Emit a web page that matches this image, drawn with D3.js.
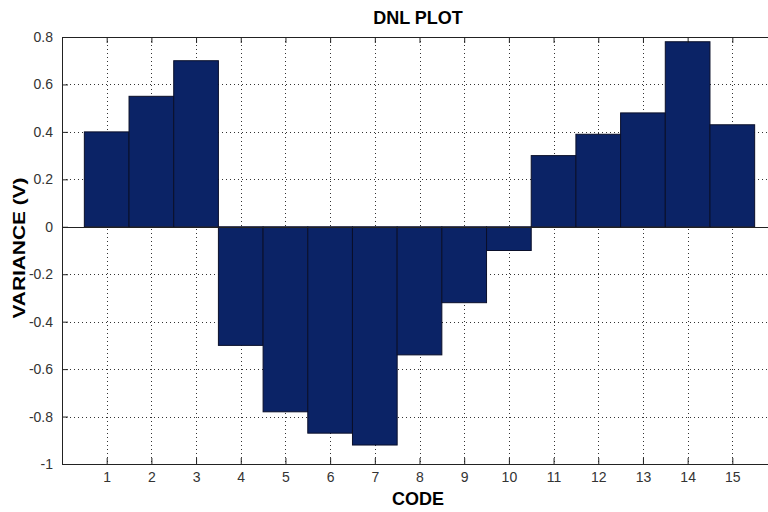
<!DOCTYPE html>
<html>
<head>
<meta charset="utf-8">
<script src="https://cdn.jsdelivr.net/npm/d3@7"></script>
<style>
body { margin: 0; background: #fff; }
svg { display: block; font-family: "Liberation Sans", Arial, sans-serif; }
</style>
</head>
<body>
<script>
// DNL per code
var codes = [1, 2, 3, 4, 5, 6, 7, 8, 9, 10, 11, 12, 13, 14, 15];
var dnl = [0.40, 0.55, 0.70, -0.50, -0.78, -0.87, -0.92, -0.54, -0.32, -0.10, 0.30, 0.39, 0.48, 0.78, 0.43];
var yTicks = [0.8, 0.6, 0.4, 0.2, 0, -0.2, -0.4, -0.6, -0.8, -1];

var width = 768, height = 512;
var mLeft = 62, mRight = 777, mTop = 37, mBottom = 464;

var x = d3.scaleLinear().domain([0, 16]).range([mLeft, mRight]);
var y = d3.scaleLinear().domain([-1, 0.8]).range([mBottom, mTop]);

var svg = d3.select("body").append("svg")
    .attr("width", width)
    .attr("height", height);

// grid
var grid = svg.append("g").attr("stroke", "#333").attr("stroke-width", 1).attr("stroke-dasharray", "1,3");
grid.selectAll(".gx").data(codes).enter().append("line")
    .attr("x1", d => Math.round(x(d)) + 0.5).attr("x2", d => Math.round(x(d)) + 0.5)
    .attr("y1", mTop).attr("y2", mBottom);
grid.selectAll(".gy").data(yTicks).enter().append("line")
    .attr("x1", mLeft).attr("x2", mRight)
    .attr("y1", d => Math.round(y(d)) + 0.5).attr("y2", d => Math.round(y(d)) + 0.5);

// bars
svg.selectAll("rect.bar").data(dnl).enter().append("rect")
    .attr("class", "bar")
    .attr("x", (d, i) => x(codes[i] - 0.5))
    .attr("width", x(1) - x(0))
    .attr("y", d => y(Math.max(0, d)))
    .attr("height", d => Math.abs(y(d) - y(0)))
    .attr("fill", "#0b2366")
    .attr("stroke", "#0a0f2a")
    .attr("stroke-width", 1);

// zero line
svg.append("line")
    .attr("x1", mLeft).attr("x2", mRight)
    .attr("y1", Math.round(y(0)) + 0.5).attr("y2", Math.round(y(0)) + 0.5)
    .attr("stroke", "#222");

// axes with inward ticks
var xAxis = d3.axisBottom(x).tickValues(codes).tickSize(-6).tickPadding(8);
var xTop = d3.axisTop(x).tickValues(codes).tickSize(-6).tickFormat("");
var yAxis = d3.axisLeft(y).tickValues(yTicks).tickSize(-6).tickPadding(9).tickFormat(d => String(d));

function styleAxis(g) {
    g.select(".domain").attr("stroke", "#222");
    g.selectAll(".tick line").attr("stroke", "#222");
    g.selectAll(".tick text").attr("fill", "#333").attr("font-size", 14)
        .attr("font-family", "'Liberation Sans Narrow', 'Liberation Sans', Arial, sans-serif");
}

svg.append("g").attr("transform", "translate(0," + mBottom + ")").call(xAxis).call(styleAxis);
svg.append("g").attr("transform", "translate(0," + mTop + ")").call(xTop).call(styleAxis);
svg.append("g").attr("transform", "translate(" + mLeft + ",0)").call(yAxis).call(styleAxis);

// labels
svg.append("text").attr("x", 418).attr("y", 24)
    .attr("text-anchor", "middle").attr("font-weight", "bold").attr("font-size", 18)
    .text("DNL PLOT");
svg.append("text").attr("x", 418).attr("y", 505)
    .attr("text-anchor", "middle").attr("font-weight", "bold").attr("font-size", 18)
    .text("CODE");
svg.append("text").attr("transform", "translate(25,248) rotate(-90)")
    .attr("text-anchor", "middle").attr("font-weight", "bold").attr("font-size", 17)
    .attr("textLength", 141).attr("lengthAdjust", "spacingAndGlyphs")
    .text("VARIANCE (V)");
</script>
</body>
</html>
